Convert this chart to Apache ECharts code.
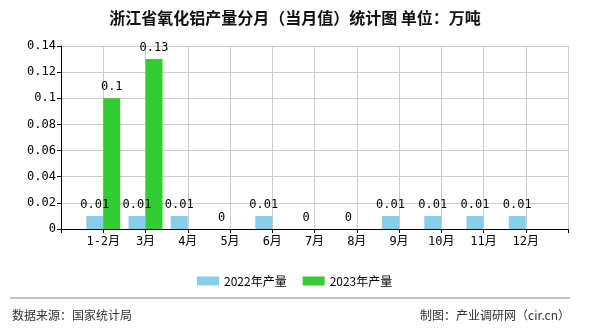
<!DOCTYPE html>
<html><head><meta charset="utf-8">
<script src="https://cdn.jsdelivr.net/npm/echarts@6/dist/echarts.min.js"></script>
<style>html,body{margin:0;padding:0;background:#fff}#c{width:590px;height:330px}</style>
</head><body><div id="c"></div>
<script>
const categories = ['', '1-2月', '3月', '4月', '5月', '6月', '7月', '8月', '9月', '10月', '11月', '12月', ''];
const series2022 = [null, 0.01, 0.01, 0.01, 0, 0.01, 0, 0, 0.01, 0.01, 0.01, 0.01, null];
const series2023 = [null, 0.1, 0.13, null, null, null, null, null, null, null, null, null, null];
const seriesNames = ['2022年产量', '2023年产量'];
const titleText = '浙江省氧化铝产量分月（当月值）统计图 单位：万吨';
const sourceText = '数据来源：国家统计局';
const creditText = '制图：产业调研网（cir.cn）';

const chart = echarts.init(document.getElementById('c'), null, {renderer: 'canvas'});
const monoFont = '"DejaVu Sans Mono", "Noto Sans CJK SC", monospace';
const cjkFont = '"Noto Sans CJK SC", sans-serif';
chart.setOption({
  animation: false,
  title: {
    text: titleText, left: 'center', top: 5,
    textStyle: {fontFamily: cjkFont, fontSize: 16, fontWeight: 'bold', color: '#111'}
  },
  legend: {
    left: 192, top: 270, itemWidth: 22, itemHeight: 9, itemGap: 16,
    icon: 'rect',
    textStyle: {fontFamily: cjkFont, fontSize: 12, color: '#000'},
    data: seriesNames
  },
  grid: {left: 61, right: 22, top: 46, bottom: 101, containLabel: false},
  xAxis: {
    type: 'category', data: categories, boundaryGap: false,
    axisLine: {lineStyle: {color: '#000', width: 1}},
    axisTick: {show: true, length: 4, lineStyle: {color: '#000'}, interval: 0},
    axisLabel: {interval: 0, fontFamily: monoFont, fontSize: 12, color: '#000', margin: 7},
    splitLine: {show: true, interval: 0, lineStyle: {color: '#cccccc'}}
  },
  yAxis: {
    type: 'value', min: 0, max: 0.14, interval: 0.02,
    axisLine: {show: true, lineStyle: {color: '#000', width: 1}},
    axisTick: {show: true, length: 4, lineStyle: {color: '#000'}},
    axisLabel: {fontFamily: monoFont, fontSize: 12, color: '#000', margin: 5},
    splitLine: {show: true, lineStyle: {color: '#cccccc'}}
  },
  series: [
    {
      name: seriesNames[0], type: 'bar', data: series2022, barWidth: 17, barGap: '0%',
      itemStyle: {color: '#87CEEB'},
      label: {show: true, position: 'top', distance: 5, fontFamily: monoFont, fontSize: 12, color: '#000'}
    },
    {
      name: seriesNames[1], type: 'bar', data: series2023, barWidth: 17, barGap: '0%',
      itemStyle: {color: '#33CC33'},
      label: {show: true, position: 'top', distance: 5, fontFamily: monoFont, fontSize: 12, color: '#000'}
    }
  ],
  graphic: [
    {type: 'line', shape: {x1: 10, y1: 298, x2: 570, y2: 298}, style: {stroke: '#888', lineWidth: 1}},
    {type: 'text', left: 12, top: 309, style: {text: sourceText, font: '12px "Noto Sans CJK SC", sans-serif', fill: '#333'}},
    {type: 'text', right: 20, top: 309, style: {text: creditText, font: '12px "Noto Sans CJK SC", sans-serif', fill: '#333'}}
  ]
});
</script></body></html>
